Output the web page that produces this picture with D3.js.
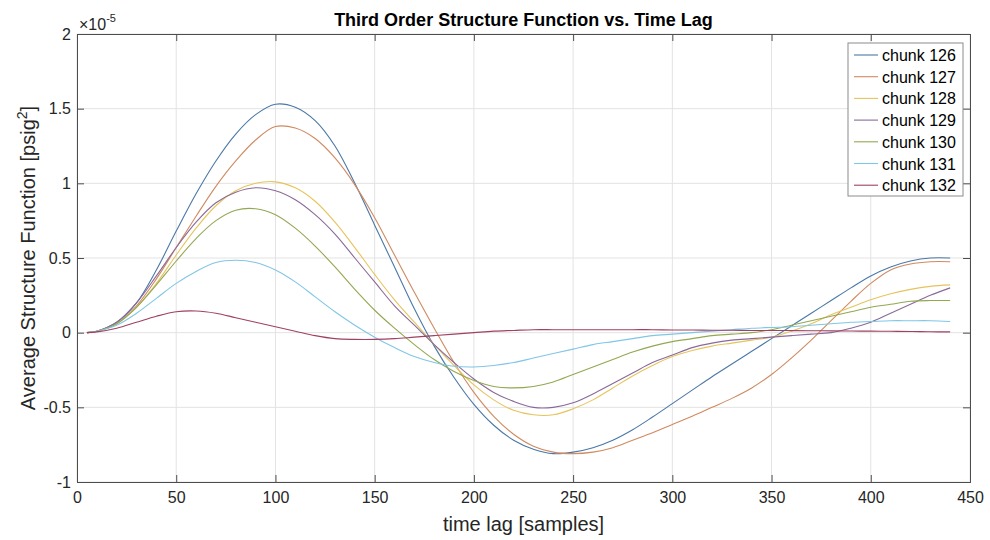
<!DOCTYPE html>
<html><head><meta charset="utf-8">
<script src="https://cdn.jsdelivr.net/npm/d3@7"></script>
<style>body{margin:0;background:#fff;} text{font-family:"Liberation Sans",Arial,Helvetica,sans-serif;}</style>
</head><body>
<svg id="chart" width="990" height="540"></svg>
<script>
const lags = [5,10,20,30,40,50,60,70,80,90,100,110,120,130,140,150,160,170,180,190,200,210,220,230,240,250,260,270,280,290,300,310,320,330,340,350,360,370,380,390,400,410,420,430,440];
const seriesNames = ["chunk 126","chunk 127","chunk 128","chunk 129","chunk 130","chunk 131","chunk 132"];
const seriesColors = ["#4a78a8","#d08a60","#e6c45c","#8a6a9a","#93a852","#80c6e6","#a04062"];
// values in units of 1e-5 psig^2
const s126 = [0,0.01,0.07,0.2,0.42,0.68,0.93,1.15,1.33,1.46,1.53,1.51,1.42,1.25,1.0,0.72,0.44,0.16,-0.09,-0.3,-0.48,-0.62,-0.72,-0.78,-0.81,-0.8,-0.77,-0.72,-0.65,-0.565,-0.475,-0.385,-0.295,-0.21,-0.125,-0.04,0.045,0.13,0.215,0.3,0.38,0.44,0.48,0.5,0.5];
const s127 = [0,0.01,0.06,0.18,0.36,0.57,0.78,0.98,1.15,1.29,1.38,1.37,1.3,1.17,0.99,0.77,0.52,0.27,0.03,-0.2,-0.4,-0.56,-0.68,-0.76,-0.8,-0.81,-0.8,-0.77,-0.72,-0.67,-0.615,-0.56,-0.5,-0.44,-0.37,-0.28,-0.17,-0.05,0.08,0.21,0.33,0.42,0.46,0.475,0.475];
const s128 = [0,0.01,0.06,0.17,0.33,0.52,0.7,0.85,0.95,1.0,1.01,0.97,0.88,0.74,0.57,0.39,0.22,0.07,-0.08,-0.22,-0.35,-0.45,-0.52,-0.55,-0.55,-0.51,-0.45,-0.37,-0.29,-0.22,-0.16,-0.12,-0.09,-0.07,-0.05,-0.03,0.01,0.06,0.12,0.17,0.22,0.26,0.29,0.31,0.32];
const s129 = [0,0.01,0.07,0.2,0.38,0.57,0.74,0.87,0.94,0.97,0.95,0.89,0.79,0.66,0.5,0.34,0.18,0.05,-0.08,-0.2,-0.31,-0.4,-0.46,-0.5,-0.5,-0.47,-0.41,-0.34,-0.27,-0.2,-0.15,-0.1,-0.07,-0.05,-0.04,-0.03,-0.02,-0.01,0.0,0.03,0.07,0.13,0.19,0.25,0.3];
const s130 = [0,0.01,0.06,0.17,0.32,0.48,0.63,0.75,0.82,0.83,0.79,0.7,0.58,0.44,0.29,0.15,0.03,-0.08,-0.18,-0.26,-0.32,-0.36,-0.37,-0.36,-0.33,-0.28,-0.23,-0.18,-0.13,-0.09,-0.06,-0.04,-0.02,-0.01,0.0,0.02,0.05,0.08,0.11,0.14,0.17,0.19,0.21,0.215,0.215];
const s131 = [0,0.01,0.05,0.13,0.23,0.33,0.41,0.47,0.485,0.47,0.42,0.34,0.24,0.14,0.05,-0.03,-0.1,-0.16,-0.2,-0.225,-0.23,-0.22,-0.2,-0.17,-0.14,-0.11,-0.08,-0.06,-0.04,-0.02,-0.01,0.0,0.01,0.02,0.03,0.035,0.04,0.05,0.06,0.07,0.075,0.08,0.08,0.08,0.075];
const s132 = [0,0.005,0.03,0.07,0.11,0.14,0.145,0.13,0.1,0.07,0.04,0.01,-0.02,-0.04,-0.045,-0.045,-0.04,-0.03,-0.02,-0.01,0.0,0.01,0.015,0.02,0.02,0.02,0.02,0.02,0.02,0.02,0.018,0.018,0.016,0.016,0.015,0.015,0.014,0.013,0.012,0.011,0.01,0.009,0.008,0.006,0.005];
const seriesValues = [s126,s127,s128,s129,s130,s131,s132];
const xTicks = [0,50,100,150,200,250,300,350,400,450];
const yTicks = [-1,-0.5,0,0.5,1,1.5,2];
const titleText = "Third Order Structure Function vs. Time Lag";
const xLabel = "time lag [samples]";

const svg = d3.select("#chart");
const m = {left:77, right:970, top:34, bottom:482};
const x = d3.scaleLinear().domain([0,450]).range([m.left,m.right]);
const y = d3.scaleLinear().domain([-1,2]).range([m.bottom,m.top]);
const axisColor = "#4d4d4d";

// grid
const g = svg.append("g");
g.selectAll(".gx").data(xTicks).join("line")
  .attr("x1",d=>x(d)).attr("x2",d=>x(d)).attr("y1",m.top).attr("y2",m.bottom)
  .attr("stroke","#e3e3e3").attr("stroke-width",1);
g.selectAll(".gy").data(yTicks).join("line")
  .attr("y1",d=>y(d)).attr("y2",d=>y(d)).attr("x1",m.left).attr("x2",m.right)
  .attr("stroke","#e3e3e3").attr("stroke-width",1);

// lines
const line = d3.line().x((d,i)=>x(lags[i])).y(d=>y(d)).curve(d3.curveCatmullRom);
seriesValues.forEach((vals,k)=>{
  svg.append("path").datum(vals).attr("d",line).attr("fill","none")
    .attr("stroke",seriesColors[k]).attr("stroke-width",1.1);
});

// axes
const fmt = d=>String(d);
const axB = d3.axisBottom(x).tickValues(xTicks).tickSize(-7).tickPadding(10).tickFormat(fmt);
const axT = d3.axisTop(x).tickValues(xTicks).tickSize(-7).tickFormat("");
const axL = d3.axisLeft(y).tickValues(yTicks).tickSize(-7).tickPadding(6).tickFormat(fmt);
const axR = d3.axisRight(y).tickValues(yTicks).tickSize(-7).tickFormat("");
function style(sel){
  sel.select(".domain").attr("stroke",axisColor);
  sel.selectAll(".tick line").attr("stroke",axisColor);
  sel.selectAll(".tick text").attr("fill","#262626").attr("font-size",16).attr("font-family","Liberation Sans, Arial, sans-serif");
}
svg.append("g").attr("transform",`translate(0,${m.bottom})`).call(axB).call(style);
svg.append("g").attr("transform",`translate(0,${m.top})`).call(axT).call(style);
svg.append("g").attr("transform",`translate(${m.left},0)`).call(axL).call(style);
svg.append("g").attr("transform",`translate(${m.right},0)`).call(axR).call(style);

// exponent label
const ex = svg.append("text").attr("x",79).attr("y",30).attr("font-size",16).attr("fill","#262626");
ex.append("tspan").text("\u00d710");
ex.append("tspan").attr("font-size",11).attr("dy",-8).text("-5");

// title
svg.append("text").attr("x",(m.left+m.right)/2).attr("y",26).attr("text-anchor","middle")
  .attr("font-size",18).attr("font-weight","bold").attr("fill","#000").text(titleText);
// x label
svg.append("text").attr("x",(m.left+m.right)/2).attr("y",531).attr("text-anchor","middle")
  .attr("font-size",20).attr("fill","#262626").text(xLabel);
// y label
const yl = svg.append("text").attr("transform",`translate(35,${(m.top+m.bottom)/2}) rotate(-90)`)
  .attr("text-anchor","middle").attr("font-size",20).attr("fill","#262626");
yl.append("tspan").text("Average Structure Function [psig");
yl.append("tspan").attr("font-size",14).attr("dy",-8).text("2");
yl.append("tspan").attr("dy",8).text("]");

// legend
const lg = svg.append("g");
const lx = 848, ly = 43, lw = 115, lh = 153;
lg.append("rect").attr("x",lx).attr("y",ly).attr("width",lw).attr("height",lh)
  .attr("fill","#fff").attr("stroke","#8c8c8c").attr("stroke-width",1);
seriesNames.forEach((n,i)=>{
  const yy = ly + 12 + i*21.7;
  lg.append("line").attr("x1",lx+6).attr("x2",lx+30).attr("y1",yy).attr("y2",yy)
    .attr("stroke",seriesColors[i]).attr("stroke-width",1.1);
  lg.append("text").attr("x",lx+34).attr("y",yy+6).attr("font-size",16).attr("fill","#000").text(n);
});
</script>
</body></html>
